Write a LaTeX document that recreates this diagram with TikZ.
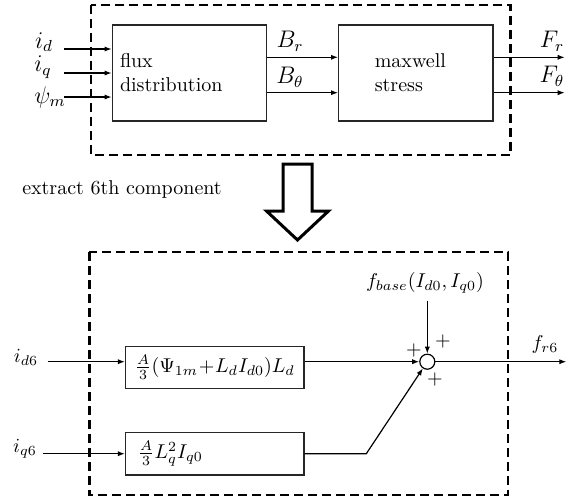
\documentclass[tikz,border=0pt]{standalone}
\usetikzlibrary{arrows.meta}

\begin{document}
\begin{tikzpicture}[x=0.5pt,y=-0.5pt,
  frame/.style={draw=black,line width=1.4pt,dash pattern=on 4.5pt off 2.5pt},
  block/.style={draw=black!85,line width=0.7pt,rectangle,align=left},
  sig/.style={-{Latex[length=3.5pt,width=2.6pt]},draw=black,line width=0.6pt},
  txt/.style={inner sep=0pt},
  bigtxt/.style={inner sep=0pt,font=\large},
  hollow/.style={draw=black,line width=1.5pt,line join=miter},
]
\useasboundingbox (0,0) rectangle (576,498);
% full model
\draw[frame] (91,5) rectangle (510.7,155);
\node[block,minimum width=77.2pt,minimum height=48pt,text width=69.5pt,inner xsep=3.85pt] (flux) at (189.5,73) {flux\\distribution};
\node[block,minimum width=77.2pt,minimum height=48pt,text width=69.5pt,inner xsep=3.85pt] (maxwell) at (415.9,73) {\hspace*{14.2pt}maxwell\\\hspace*{14.2pt}stress};
\node[bigtxt] (id) at (44,42) {$i_d$};
\node[bigtxt] (iq) at (43,67) {$i_q$};
\node[bigtxt] (psim) at (50,97) {$\psi_m$};
\coordinate (idin) at (64,49);
\coordinate (iqin) at (64,73);
\coordinate (psin) at (64,97);
\draw[sig] (idin) -- (idin -| flux.west);
\draw[sig] (iqin) -- (iqin -| flux.west);
\draw[sig] (psin) -- (psin -| flux.west);
\coordinate (frout) at (564.7,57.3);
\coordinate (ftout) at (564.7,92.7);
\draw[sig] (flux.east |- frout) -- (maxwell.west |- frout);
\draw[sig] (flux.east |- ftout) -- (maxwell.west |- ftout);
\draw[sig] (maxwell.east |- frout) -- (frout);
\draw[sig] (maxwell.east |- ftout) -- (ftout);
\node[bigtxt] (br) at (290,41) {$B_r$};
\node[bigtxt] (bt) at (290,77) {$B_\theta$};
\node[bigtxt] (fr) at (552,41) {$F_r$};
\node[bigtxt] (ft) at (552,76) {$F_\theta$};
% extraction step
\node[txt] (extract) at (122,189) {extract 6th component};
\draw[hollow] (283,164) -- (312,164) -- (312,211) -- (328.5,211) -- (297.5,240)
  -- (266.5,211) -- (283,211) -- cycle;
% 6th order model
\draw[frame] (89.3,252) rectangle (508,495);
\node[block,minimum width=89.2pt,minimum height=21.2pt,text width=80pt,inner xsep=4.6pt] (gaind) at (214.8,367.5) {$\frac{A}{3}(\Psi_{1m}+L_dI_{d0})L_d$};
\node[block,minimum width=89.2pt,minimum height=21.2pt,text width=80pt,inner xsep=4.6pt] (gainq) at (214.8,453.7) {\hspace*{1.5pt}$\frac{A}{3}L_q^2I_{q0}$};
\node[draw,circle,line width=0.6pt,minimum size=7.5pt,inner sep=0pt] (sum) at (427.3,361.7) {};
\node[txt] (id6) at (26,357) {$i_{d6}$};
\node[txt] (iq6) at (25,449) {$i_{q6}$};
\node[txt] (fbase) at (425,283) {$f_{base}(I_{d0},I_{q0})$};
\node[txt] (fr6) at (545,344) {$f_{r6}$};
\coordinate (id6in) at (47.7,361.7);
\coordinate (iq6in) at (42.7,453.7);
\coordinate (fbin) at (427.3,300.7);
\coordinate (bend) at (366.3,453.7);
\coordinate (fr6out) at (566.3,361.7);
\draw[sig] (id6in) -- (id6in -| gaind.west);
\draw[sig] (iq6in) -- (iq6in -| gainq.west);
\draw[sig] (gaind.east |- sum) -- (sum);
\draw[sig] (gainq.east) -- (bend) -- (sum);
\draw[sig] (fbin) -- (sum);
\draw[sig] (sum) -- (fr6out);
\node[txt] (p1) at (414,350) {$+$};
\node[txt] (p2) at (443,341) {$+$};
\node[txt] (p3) at (435,379) {$+$};
\end{tikzpicture}
\end{document}
